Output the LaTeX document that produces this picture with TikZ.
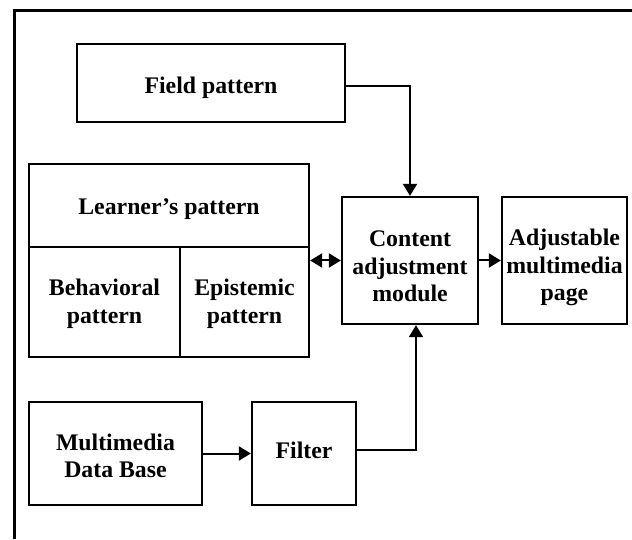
\documentclass[tikz,border=0pt]{standalone}
\usepackage{fontspec}
\setmainfont{Liberation Serif}
\usetikzlibrary{arrows.meta}
\begin{document}
\begin{tikzpicture}[x=1pt,y=1pt,
  box/.style={draw, line width=2.3pt, inner sep=0pt},
  lbl/.style={inner sep=0pt, align=center,
    font=\fontsize{23.8}{27.5}\selectfont\bfseries},
  tip/.style={Triangle[length=12pt,width=14pt]},
  conn/.style={line width=2pt, -{Triangle[length=12pt,width=14pt]}},
  dconn/.style={line width=2pt, {Triangle[length=12pt,width=14pt]}-{Triangle[length=12pt,width=14pt]}}
]
\useasboundingbox (0,0) rectangle (632,539);
% outer frame (only top and left edges visible)
\draw[line width=3pt] (14,0) -- (14,528) -- (634,528);

\node[box, minimum width=268pt, minimum height=78pt] (field) at (211,456) {};
\node[lbl] (fieldt) at (211,451) {Field pattern};
\node[box, minimum width=280pt, minimum height=193pt] (learner) at (169,278.5) {};
\draw[line width=2.3pt] (29,292) -- (309,292);
\draw[line width=2.3pt] (180,292) -- (180,182);
\node[lbl] (lp) at (169,329.5) {Learner’s pattern};
\node[lbl] (bp) at (104.5,235) {Behavioral\\pattern};
\node[lbl] (ep) at (244.5,235) {Epistemic\\pattern};

\node[box, minimum width=136pt, minimum height=127pt] (content) at (410,278.5) {};
\node[lbl] (contentt) at (410,272.5) {Content\\adjustment\\module};
\node[box, minimum width=125pt, minimum height=127pt] (adjust) at (564.5,278.5) {};
\node[lbl] (adjustt) at (564.5,271.5) {Adjustable\\multimedia\\page};
\node[box, minimum width=173pt, minimum height=103pt] (mm) at (115.5,85.5) {};
\node[lbl] (mmt) at (115.5,83) {Multimedia\\Data Base};
\node[box, minimum width=104pt, minimum height=103pt] (filter) at (304,85.5) {};
\node[lbl] (filtert) at (304,89) {Filter};

\coordinate (fc) at ([xshift=6pt]content.south);
\draw[conn] ([yshift=-3pt]field.east) -| (content.north);
\draw[dconn] (learner.east) -- (content.west);
\draw[conn] (content.east) -- (adjust.west);
\draw[conn] (mm.east) -- (filter.west);
\draw[conn] ([yshift=4pt]filter.east) -| (fc);
\end{tikzpicture}
\end{document}
